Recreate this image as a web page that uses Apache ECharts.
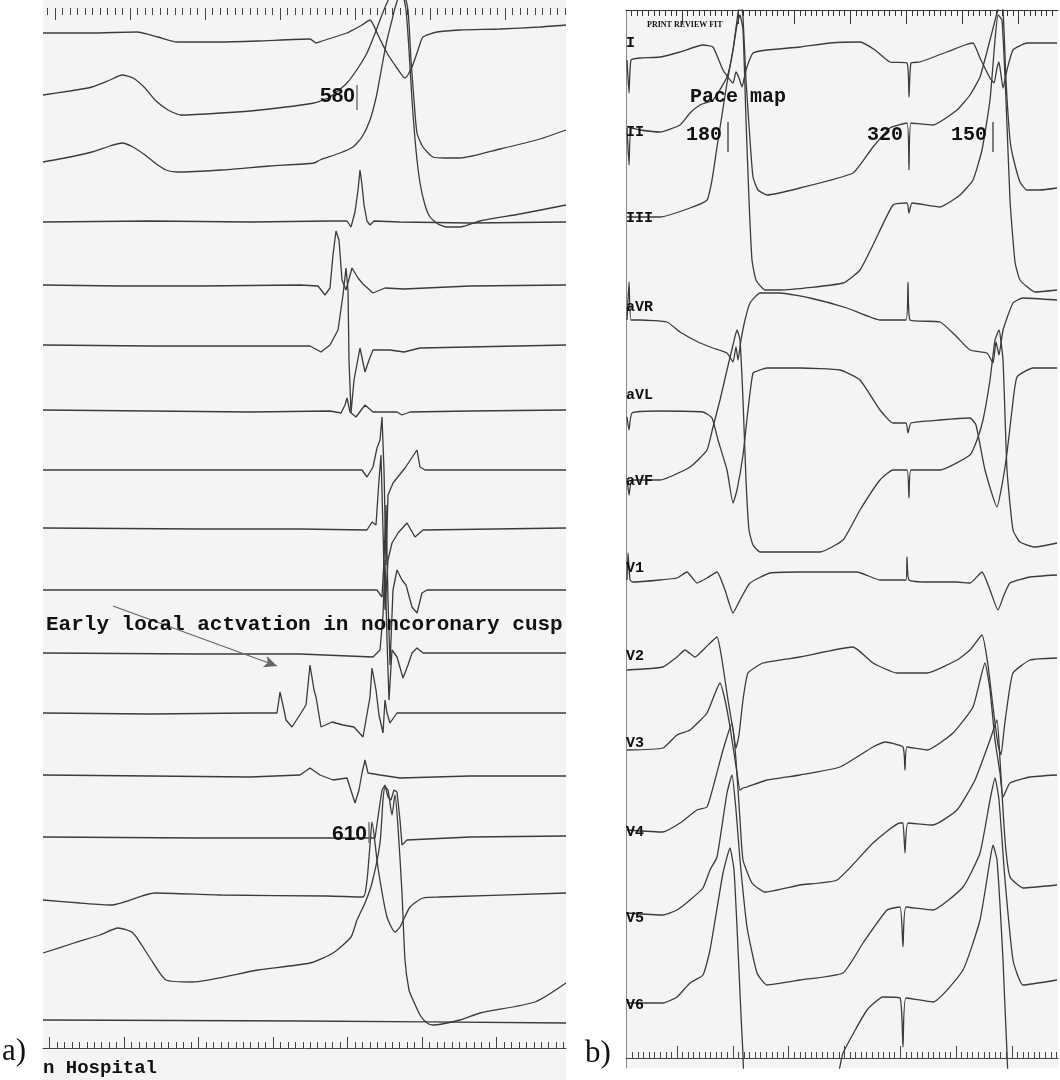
<!DOCTYPE html>
<html>
<head>
<meta charset="utf-8">
<title>Pace map</title>
<script src="https://cdn.jsdelivr.net/npm/echarts/dist/echarts.min.js"></script>
<style>
html, body { margin: 0; padding: 0; background: #fff; }
#chart { width: 1060px; height: 1080px; }
</style>
</head>
<body>
<div id="chart"></div>
<script>
// panel a: 17 channels, [time, level] (level grows downward)
var traceA01 = [[43,33],[90,33],[137,32],[158,37],[177,42],[220,42],[258,41],[310,39],[316,43],[322,41],[347,33],[353,30],[362,25],[370,20],[378,35],[387,53],[397,68],[405,78],[412,67],[418,50],[423,37],[437,32],[460,30],[500,29],[540,27],[566,25]];
var traceA02 = [[43,95],[70,91],[92,87],[110,80],[122,75],[133,78],[145,88],[155,100],[168,110],[181,115],[221,113],[260,110],[314,103],[330,97],[347,83],[358,68],[367,53],[374,36],[380,20],[386,5],[392,-5],[402,-5],[406,10],[409,50],[412,100],[416,150],[420,183],[425,205],[430,217],[438,224],[447,227],[460,227],[480,221],[520,214],[566,205]];
var traceA03 = [[43,162],[70,157],[92,152],[110,146],[122,143],[133,147],[145,155],[155,163],[166,170],[177,172],[221,170],[270,166],[314,163],[320,160],[340,153],[353,147],[362,137],[370,120],[376,98],[380,77],[384,55],[387,40],[392,20],[395,8],[400,-5],[404,-5],[408,10],[411,60],[414,100],[417,133],[423,147],[433,157],[445,158],[460,158],[500,149],[540,139],[566,130]];
var traceA04 = [[43,222],[150,221],[250,222],[330,221],[347,221],[351,227],[355,212],[358,190],[360,170],[362,185],[364,205],[367,221],[370,225],[374,221],[400,222],[470,223],[566,222]];
var traceA05 = [[43,285],[120,286],[200,286],[300,285],[318,286],[325,295],[330,288],[333,255],[336,231],[339,240],[342,280],[346,290],[352,268],[358,278],[363,284],[373,293],[385,288],[404,289],[470,286],[566,285]];
var traceA06 = [[43,345],[150,346],[250,346],[310,346],[321,352],[330,345],[338,330],[343,295],[346,268],[348,290],[349,360],[351,413],[354,380],[360,348],[365,372],[369,360],[373,350],[390,350],[404,352],[420,348],[566,345]];
var traceA07 = [[43,410],[150,411],[250,412],[330,411],[341,413],[345,405],[347,398],[350,412],[356,417],[365,405],[373,412],[397,412],[402,415],[410,412],[470,411],[566,410]];
var traceA08 = [[43,470],[200,470],[300,470],[362,470],[367,477],[373,467],[377,448],[380,440],[382,417],[384,470],[386,565],[388,495],[393,483],[405,468],[417,450],[420,467],[425,470],[566,470]];
var traceA09 = [[43,528],[200,529],[300,529],[367,530],[372,522],[376,525],[379,480],[381,455],[383,530],[385,610],[388,560],[392,543],[398,533],[407,523],[415,537],[423,530],[566,528]];
var traceA10 = [[43,590],[200,590],[300,590],[377,590],[382,597],[384,560],[386,505],[388,600],[390,665],[393,590],[397,570],[402,580],[406,585],[412,607],[417,613],[422,593],[427,590],[566,590]];
var traceA11 = [[43,653],[200,654],[300,654],[373,657],[380,650],[383,615],[385,560],[387,640],[389,700],[392,650],[397,657],[403,678],[408,665],[412,653],[417,648],[423,653],[566,653]];
var traceA12 = [[43,713],[150,714],[250,713],[277,713],[280,692],[284,710],[286,720],[292,727],[301,713],[306,705],[310,665],[314,690],[316,697],[321,727],[332,722],[343,725],[354,727],[363,737],[370,697],[372,668],[376,690],[379,715],[383,733],[385,700],[387,713],[390,723],[397,713],[470,713],[566,713]];
var traceA13 = [[43,775],[150,776],[250,777],[300,775],[310,768],[320,775],[333,780],[347,778],[355,803],[359,790],[362,773],[365,760],[368,773],[380,775],[400,778],[470,776],[566,776]];
var traceA14 = [[43,837],[200,838],[300,838],[375,838],[379,810],[382,790],[385,785],[388,797],[391,800],[394,790],[397,792],[400,820],[402,845],[407,840],[470,837],[566,836]];
var traceA15 = [[43,900],[80,903],[111,905],[155,893],[221,895],[327,896],[363,897],[367,880],[370,845],[372,822],[378,868],[387,917],[395,932],[400,927],[410,907],[423,898],[440,897],[566,893]];
var traceA16 = [[43,953],[74,943],[100,935],[118,928],[133,933],[150,958],[166,980],[192,982],[258,970],[310,963],[333,953],[351,937],[357,920],[365,903],[372,883],[380,843],[383,800],[385,787],[388,790],[392,815],[395,795],[398,827],[402,893],[405,960],[409,990],[413,1000],[420,1015],[427,1023],[433,1025],[460,1020],[480,1013],[535,1002],[566,983]];
var traceA17 = [[43,1020],[300,1021],[566,1023]];

// panel b: 12-lead pace map
var leadI   = [[627,60],[629,93],[631,60],[640,58],[660,57],[680,52],[703,45],[713,47],[723,70],[733,83],[736,72],[739,78],[742,87],[746,70],[753,53],[767,50],[800,47],[830,43],[860,42],[875,50],[890,62],[907,63],[909,97],[911,63],[920,62],[947,52],[965,45],[973,43],[980,58],[990,78],[994,83],[997,68],[999,62],[1001,75],[1003,88],[1007,70],[1013,50],[1027,43],[1057,43]];
var leadII  = [[627,128],[629,165],[631,128],[640,130],[660,132],[680,125],[690,113],[700,105],[713,100],[727,77],[733,50],[738,13],[741,3],[743,17],[746,80],[750,140],[753,177],[758,190],[767,195],[800,188],[853,173],[873,147],[890,128],[907,123],[909,170],[911,123],[933,125],[957,110],[970,95],[980,77],[990,40],[997,13],[1000,5],[1003,10],[1006,80],[1010,140],[1013,157],[1020,182],[1027,190],[1040,190],[1057,188]];
var leadIII = [[627,217],[660,217],[690,208],[707,200],[712,180],[717,147],[722,115],[727,83],[733,50],[737,25],[740,15],[743,30],[746,120],[749,200],[752,260],[756,280],[765,290],[780,290],[843,283],[860,270],[873,245],[893,205],[907,203],[909,213],[912,203],[940,207],[960,195],[973,180],[982,150],[990,100],[995,40],[998,15],[1002,20],[1006,100],[1010,200],[1015,262],[1020,280],[1035,292],[1057,290]];
var leadAVR = [[627,320],[629,282],[631,320],[640,320],[667,322],[680,332],[700,343],[713,348],[727,353],[733,362],[736,347],[738,360],[741,340],[745,320],[750,303],[760,293],[780,293],[810,298],[847,308],[880,320],[906,320],[908,282],[910,320],[940,322],[955,335],[970,350],[987,353],[993,363],[996,342],[999,355],[1003,330],[1013,303],[1023,298],[1057,300]];
var leadAVL = [[627,417],[629,430],[632,413],[660,411],[703,412],[712,418],[718,440],[727,470],[733,503],[737,490],[743,455],[748,410],[753,373],[760,370],[767,368],[800,368],[840,370],[860,380],[880,410],[893,423],[906,423],[908,433],[911,423],[940,420],[970,418],[976,425],[985,470],[997,507],[1002,485],[1007,453],[1012,410],[1017,377],[1033,368],[1057,368]];
var leadAVF = [[627,478],[629,495],[632,480],[660,480],[690,467],[707,450],[713,427],[720,400],[727,370],[733,345],[737,330],[740,340],[743,400],[746,480],[749,530],[753,545],[760,552],[773,552],[820,552],[843,540],[860,510],[880,480],[893,470],[907,470],[909,498],[911,470],[940,470],[970,455],[977,440],[983,420],[990,380],[995,340],[999,330],[1003,360],[1007,470],[1013,530],[1020,542],[1035,547],[1057,543]];
var leadV1  = [[627,580],[628,553],[630,580],[633,582],[660,580],[677,578],[687,572],[697,583],[707,578],[717,572],[725,590],[733,613],[740,600],[750,583],[770,573],[800,572],[857,572],[880,580],[906,580],[907,557],[909,580],[930,582],[957,582],[970,583],[982,572],[990,590],[998,610],[1004,595],[1010,583],[1030,577],[1057,575]];
var leadV2  = [[627,670],[663,667],[677,657],[685,650],[695,657],[705,648],[717,637],[722,660],[728,700],[733,730],[736,748],[739,735],[743,700],[748,673],[763,663],[800,657],[853,647],[873,663],[897,673],[927,673],[957,660],[970,650],[982,635],[988,665],[993,707],[998,745],[1001,755],[1004,730],[1008,700],[1013,673],[1030,660],[1057,658]];
var leadV3  = [[627,750],[663,748],[677,735],[690,730],[707,713],[720,683],[725,700],[730,727],[737,773],[740,790],[743,788],[747,787],[767,780],[800,775],[840,767],[873,747],[885,742],[903,747],[905,770],[907,747],[927,750],[953,733],[973,707],[985,663],[990,690],[995,740],[1000,773],[1003,797],[1010,783],[1030,777],[1057,775]];
var leadV4  = [[627,830],[663,832],[680,823],[697,810],[707,807],[715,780],[723,750],[732,723],[736,760],[740,820],[743,860],[752,883],[765,892],[800,885],[837,880],[873,843],[900,823],[903,823],[905,853],[908,823],[933,825],[957,810],[975,780],[990,740],[997,720],[1000,760],[1005,840],[1010,877],[1023,888],[1057,885]];
var leadV5  = [[627,913],[663,915],[677,910],[690,900],[703,888],[710,870],[717,857],[727,793],[732,775],[736,810],[740,860],[747,927],[757,973],[767,985],[800,980],[843,973],[863,943],[887,910],[900,907],[903,947],[906,907],[933,910],[963,887],[980,853],[990,800],[995,778],[999,800],[1005,880],[1013,960],[1023,985],[1057,980]];
var leadV6  = [[627,1003],[663,1003],[677,997],[690,983],[703,975],[710,950],[723,873],[730,848],[734,870],[737,927],[740,993],[743,1055],[746,1080],[835,1080],[843,1053],[867,1010],[883,997],[900,998],[903,1047],[906,998],[933,1002],[963,970],[980,920],[990,860],[993,845],[997,860],[1003,960],[1007,1053],[1010,1080],[1057,1080]];

// ruler major ticks (minor ticks split each gap in ten)
var rulerATop = [55,130,205,280,355,430,505];
var rulerABottom = [49.5,124,198.5,273,347.5,422,496.5];
var rulerBTop = [682,738.1,794.2,850.3,906.4,962.5,1018.6];
var rulerBBottom = [677,732.8,788.6,844.4,900.2,956,1011.8];

// annotations: [text, time, level]
var notesA = [
  ['580', 355, 96],
  ['610', 367, 834]
];
var captionA = ['Early local actvation in noncoronary cusp', 46, 625];
var footerA = ['n Hospital', 43, 1068];
var arrowA = [[113,606],[277,666]];
var markersA = [[357,85,110],[369,822,843]];

var notesB = [
  ['Pace map', 690, 97],
  ['180', 686, 135],
  ['320', 867, 135],
  ['150', 951, 135]
];
var printTag = ['PRINT REVIEW FIT', 647, 25];
var leadNames = ['I','II','III','aVR','aVL','aVF','V1','V2','V3','V4','V5','V6'];
var leadLabelY = [43,132,218,307,395,481,568,656,743,832,918,1005];
var markersB = [[728,122,152],[993,122,152]];

var panelA = [traceA01,traceA02,traceA03,traceA04,traceA05,traceA06,traceA07,traceA08,traceA09,traceA10,traceA11,traceA12,traceA13,traceA14,traceA15,traceA16,traceA17];
var panelB = [leadI,leadII,leadIII,leadAVR,leadAVL,leadAVF,leadV1,leadV2,leadV3,leadV4,leadV5,leadV6];

var ink = '#3b3b3b';
var mono = '"Liberation Mono", "DejaVu Sans Mono", monospace';

function minorTicks(majors, from, to) {
  var step = (majors[1] - majors[0]) / 10;
  var v = majors[0];
  while (v - step >= from) v -= step;
  var out = [];
  for (; v <= to; v += step) out.push(+v.toFixed(2));
  return out;
}

function rulerAxes(grid, pos, majors, min, max, color, minorLen, majorLen, showLine) {
  return [{
    type: 'value', gridIndex: grid, position: pos, min: min, max: max,
    axisLine: { show: showLine, onZero: false, lineStyle: { color: color, width: 1 } },
    axisTick: { show: true, inside: true, length: minorLen, customValues: minorTicks(majors, min + 2, max - 1), lineStyle: { color: color, width: 1 } },
    axisLabel: { show: false }, splitLine: { show: false }
  }, {
    type: 'value', gridIndex: grid, position: pos, min: min, max: max,
    axisLine: { show: false, onZero: false },
    axisTick: { show: true, inside: true, length: majorLen, customValues: majors, lineStyle: { color: color, width: 1 } },
    axisLabel: { show: false }, splitLine: { show: false }
  }];
}

function markerLines(list) {
  return list.map(function (m) {
    return [{ coord: [m[0], m[1]] }, { coord: [m[0], m[2]] }];
  });
}

var chart = echarts.init(document.getElementById('chart'), null, { renderer: 'canvas' });

var series = [];
panelA.forEach(function (d, i) {
  series.push({
    type: 'line', xAxisIndex: 0, yAxisIndex: 0, data: d, symbol: 'none', silent: true,
    smooth: (i < 3 || i > 13) ? 0.2 : false,
    lineStyle: { color: ink, width: 1.3 }
  });
});
panelB.forEach(function (d) {
  series.push({
    type: 'line', xAxisIndex: 1, yAxisIndex: 1, data: d, symbol: 'none', silent: true,
    smooth: 0.15,
    lineStyle: { color: ink, width: 1.3 }
  });
});

// marker ticks and arrow, drawn in data space
series.push({
  type: 'scatter', xAxisIndex: 0, yAxisIndex: 0, data: [], silent: true,
  markLine: {
    silent: true, symbol: 'none', label: { show: false },
    lineStyle: { color: '#777', width: 1.5, type: 'solid' },
    data: markerLines(markersA)
  }
});
series.push({
  type: 'scatter', xAxisIndex: 0, yAxisIndex: 0, data: [], silent: true,
  markLine: {
    silent: true, symbol: ['none', 'arrow'], symbolSize: [9, 13], label: { show: false },
    lineStyle: { color: '#666', width: 1.2, type: 'solid' },
    data: [[{ coord: arrowA[0] }, { coord: arrowA[1] }]]
  }
});
series.push({
  type: 'scatter', xAxisIndex: 1, yAxisIndex: 1, data: [], silent: true,
  markLine: {
    silent: true, symbol: 'none', label: { show: false },
    lineStyle: { color: '#555', width: 1.5, type: 'solid' },
    data: markerLines(markersB)
  }
});

var hiddenY = function (g) {
  return { type: 'value', gridIndex: g, min: 0, max: 1, show: false };
};

var xAxes = [
  { type: 'value', gridIndex: 0, min: 43, max: 566, show: false },
  { type: 'value', gridIndex: 1, min: 626, max: 1058, show: false }
]
  .concat(rulerAxes(2, 'top', rulerATop, 43, 566, '#444', 7, 12, false))
  .concat(rulerAxes(3, 'bottom', rulerABottom, 43, 566, '#444', 6, 11, true))
  .concat(rulerAxes(4, 'top', rulerBTop, 626, 1058, '#333', 6, 14, true))
  .concat(rulerAxes(5, 'bottom', rulerBBottom, 626, 1058, '#444', 6, 12, true));

var option = {
  backgroundColor: '#ffffff',
  animation: false,
  grid: [
    { left: 43, top: 0, width: 523, height: 1080, show: true, backgroundColor: '#f4f4f4', borderWidth: 0 },
    { left: 626, top: 10, width: 432, height: 1058, show: true, backgroundColor: '#f4f4f4', borderWidth: 0 },
    { left: 43, top: 8, width: 523, height: 14 },
    { left: 43, top: 1034, width: 523, height: 14 },
    { left: 626, top: 10, width: 432, height: 16 },
    { left: 626, top: 1042, width: 432, height: 16 }
  ],
  xAxis: xAxes,
  yAxis: [
    { type: 'value', gridIndex: 0, min: 0, max: 1080, inverse: true, show: false },
    { type: 'value', gridIndex: 1, min: 10, max: 1068, inverse: true,
      axisLine: { show: true, onZero: false, lineStyle: { color: '#8a8a8a', width: 1 } },
      axisTick: { show: false }, axisLabel: { show: false }, splitLine: { show: false } },
    hiddenY(2), hiddenY(3), hiddenY(4), hiddenY(5)
  ],
  series: series
};

chart.setOption(option);

// text annotations placed at data coordinates of their panel
function place(grid, row, font, align) {
  var p = chart.convertToPixel({ gridIndex: grid }, [row[1], row[2]]);
  return {
    type: 'text', x: p[0], y: p[1], silent: true, z: 10,
    style: { text: row[0], font: font, fill: '#111', align: align || 'left', verticalAlign: 'middle' }
  };
}

var texts = [];
notesA.forEach(function (r) {
  texts.push(place(0, r, 'bold 21px "Liberation Sans", Arial, sans-serif', 'right'));
});
texts.push(place(0, captionA, 'bold 21px ' + mono));
texts.push(place(0, footerA, 'bold 19px ' + mono));
notesB.forEach(function (r) {
  texts.push(place(1, r, 'bold 20px ' + mono));
});
texts.push(place(1, printTag, 'bold 8px "Liberation Serif", serif'));
leadNames.forEach(function (n, i) {
  texts.push(place(1, [n, 626, leadLabelY[i]], 'bold 15px ' + mono));
});
texts.push({ type: 'text', left: 2, top: 1036, silent: true, style: { text: 'a)', font: '31px "Liberation Serif", serif', fill: '#111' } });
texts.push({ type: 'text', left: 585, top: 1038, silent: true, style: { text: 'b)', font: '31px "Liberation Serif", serif', fill: '#111' } });

chart.setOption({ graphic: texts });
</script>
</body>
</html>
